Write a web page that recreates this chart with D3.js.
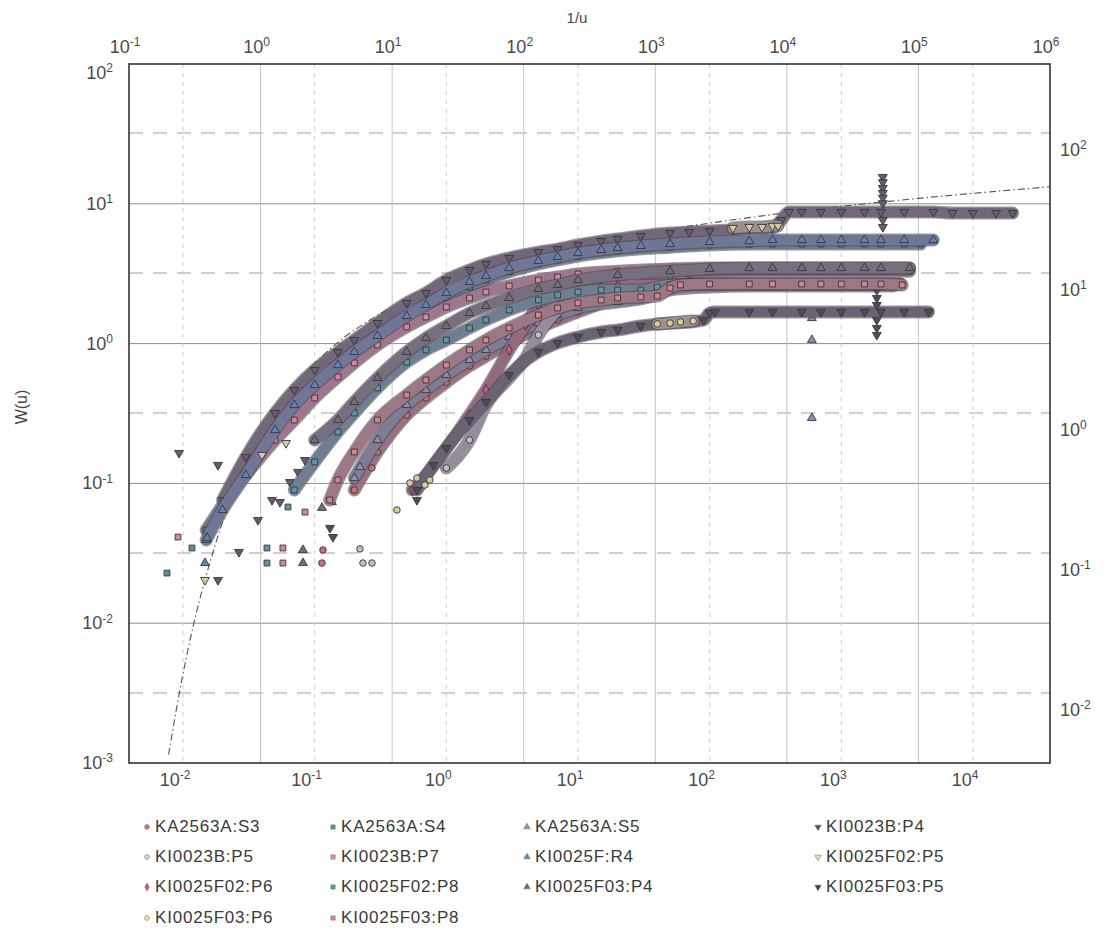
<!DOCTYPE html>
<html><head><meta charset="utf-8">
<script src="https://cdn.jsdelivr.net/npm/d3@7"></script>
<style>body{margin:0;background:#fff}</style>
</head><body>
<svg id="c" width="1104" height="938"></svg>
<script>
// ---------------- DATA ----------------
const seriesNames = ["KA2563A:S3","KA2563A:S4","KA2563A:S5","KI0023B:P4","KI0023B:P5","KI0023B:P7","KI0025F:R4",
  "KI0025F02:P5","KI0025F02:P6","KI0025F02:P8","KI0025F03:P4","KI0025F03:P5","KI0025F03:P6","KI0025F03:P8"];

// time (bottom axis), drawdown (right axis)
const KA2563A_S3 = [[0.2,0.282],[0.3,0.527],[0.5,0.968],[0.7,1.28],[1,1.66],[1.5,2.17],[2,2.55],[3,3.16],[5,4.05],[7,4.62],[10,5.27],[15,6.1],[20,6.96],[30,8.21],[50,9.52],[70,9.8],[100,10.2],[200,10.3],[300,10.3],[500,10.3],[700,10.3],[1000,10.3],[1500,10.3],[2000,10.3],[2500,10.3],[3300,10.3]];
const KA2563A_S4 = [[0.015,0.146],[0.02,0.22],[0.03,0.405],[0.05,0.72],[0.07,1.05],[0.1,1.46],[0.15,2.03],[0.2,2.51],[0.3,3.27],[0.5,4.54],[0.7,5.44],[1,6.63],[1.5,7.94],[2,8.91],[3,10.2],[5,11.6],[7,12.4],[10,13.2],[20,14.4],[50,15.3],[100,15.85],[200,16.1],[300,16.1],[500,16.1],[700,16.1],[1000,16.1],[1500,16.1],[2000,16.1],[3000,16.1],[4000,16.1]];
const KA2563A_S5 = [[0.2,0.343],[0.3,0.641],[0.5,1.14],[0.7,1.46],[1,1.87],[1.5,2.39],[2,2.82],[3,3.49],[5,4.39],[7,5.01],[10,5.62],[20,6.21],[30,6.52],[50,7.56],[100,7.94],[200,8.08],[300,8.08],[500,8.08],[700,8.08],[1000,8.08],[1500,8.08],[2000,8.08],[2500,8.08]];
const KI0023B_P4 = [[0.02,0.239],[0.03,0.485],[0.05,1.0],[0.07,1.46],[0.1,2.03],[0.15,2.73],[0.2,3.32],[0.3,4.39],[0.5,6.11],[0.7,7.2],[1,8.91],[1.5,10.5],[2,11.6],[3,12.8],[5,14.1],[7,14.8],[10,15.85],[15,16.9],[20,17.5],[30,18.4],[50,19.3],[70,19.6],[100,19.95],[150,20.3],[200,20.6],[300,20.96],[350,23.9],[400,27.3],[500,27.3],[700,27.3],[1000,27.3],[1500,27.3],[2000,27.3],[3000,27.3],[5000,27.3],[7000,26.8],[10000,26.8],[15000,26.8],[20000,26.8]];
const KI0023B_P5 = [[1,0.405],[1.5,0.641],[2,1.14],[3,1.78],[4,2.47],[5,3.61],[7,5.44],[10,7.32],[15,8.91],[20,9.52],[30,10.2],[50,10.5],[100,10.7],[200,10.7],[300,10.7],[500,10.7],[700,10.7],[1000,10.7],[1500,10.7],[2000,10.7],[3200,10.7]];
const KI0023B_P7 = [[0.03,0.361],[0.05,0.641],[0.07,0.891],[0.1,1.28],[0.15,1.81],[0.2,2.28],[0.3,3.06],[0.5,4.12],[0.7,4.85],[1,5.72],[1.5,6.63],[2,7.32],[3,8.08],[5,8.91],[7,9.36],[10,9.84],[20,10.3],[50,10.7],[100,10.85],[200,10.85],[300,10.85],[500,10.85],[700,10.85],[1000,10.85],[1500,10.85],[2000,10.85],[3300,10.85]];
const KI0025F_R4 = [[0.015,0.124],[0.02,0.203],[0.03,0.361],[0.05,0.756],[0.07,1.14],[0.1,1.585],[0.15,2.2],[0.2,2.73],[0.3,3.55],[0.5,4.93],[0.7,5.91],[1,7.2],[1.5,8.63],[2,9.52],[3,10.85],[5,12.2],[7,13.0],[10,13.9],[15,14.6],[20,15.1],[30,15.6],[50,16.1],[100,16.65],[200,16.9],[300,17.2],[500,17.2],[700,17.2],[1000,17.2],[1500,17.2],[2000,17.2],[3000,17.2],[5000,17.2]];
const KI0025F02_P5 = [[150,20.96],[200,21.3],[250,21.3],[300,21.7],[330,21.7]];
const KI0025F02_P6 = [[0.55,0.282],[0.7,0.361],[1,0.56],[1.5,0.968],[2,1.46],[3,2.82],[4,4.25],[5,5.91],[7,6.96],[10,7.56],[15,7.94],[20,8.08],[50,8.21],[100,8.35],[200,8.35],[300,8.35],[500,8.35],[700,8.35],[1000,8.35],[1500,8.35],[2000,8.35],[2800,8.35]];
const KI0025F02_P8 = [[0.07,0.282],[0.1,0.447],[0.15,0.732],[0.2,1.0],[0.3,1.51],[0.5,2.31],[0.7,2.82],[1,3.32],[1.5,4.05],[2,4.62],[3,5.44],[5,6.41],[7,6.96],[10,7.32],[15,7.56],[20,7.56],[30,7.56],[40,7.94],[50,8.21],[100,8.35],[200,8.35],[300,8.35],[500,8.35],[700,8.35],[1000,8.35],[1500,8.35],[2000,8.35],[2800,8.35]];
const KI0025F03_P4 = [[0.1,0.641],[0.15,0.891],[0.2,1.2],[0.3,1.78],[0.5,2.73],[0.7,3.43],[1,4.18],[1.5,5.18],[2,5.81],[3,6.63],[5,7.69],[7,8.21],[10,8.91],[20,9.68],[50,10.3],[100,10.7],[200,10.85],[300,10.85],[500,10.85],[700,10.85],[1000,10.85],[1500,10.85],[2000,10.85],[3300,10.85]];
const KI0025F03_P5 = [[0.6,0.282],[0.8,0.425],[1,0.562],[1.5,0.891],[2,1.2],[3,1.87],[5,2.73],[7,3.16],[10,3.49],[15,3.79],[20,3.92],[30,4.18],[50,4.39],[70,4.47],[90,4.62],[100,5.18],[110,5.27],[200,5.27],[300,5.27],[500,5.27],[700,5.27],[1000,5.27],[1500,5.27],[2000,5.27],[3000,5.27],[4600,5.27]];
const KI0025F03_P6 = [[40,4.33],[50,4.39],[60,4.47],[75,4.54]];
const KI0025F03_P8 = [[0.13,0.239],[0.15,0.332],[0.2,0.527],[0.3,0.891],[0.5,1.345],[0.7,1.72],[1,2.2],[1.5,2.82],[2,3.32],[3,4.05],[5,5.01],[7,5.62],[10,6.11],[15,6.41],[20,6.63],[30,6.74],[40,6.85],[50,7.81],[60,8.21],[100,8.35],[200,8.35],[300,8.35],[500,8.35],[700,8.35],[1000,8.35],[1500,8.35],[2000,8.35],[2900,8.21]];

// isolated early readings and outliers: [series, time, drawdown]
const scatterPoints = [
 ["KA2563A:S3",0.1156,0.105],["KA2563A:S3",0.1136,0.0848],["KA2563A:S3",0.272,0.405],
 ["KA2563A:S4",0.00756,0.0719],["KA2563A:S4",0.0117,0.1086],
 ["KA2563A:S5",0.2208,0.411],["KA2563A:S5",597,4.77],["KA2563A:S5",597,3.32],["KA2563A:S5",597,0.921],
 ["KI0023B:P4",0.00933,0.518],["KI0023B:P4",0.01844,0.425],["KI0023B:P4",0.0371,0.172],["KI0023B:P4",0.0266,0.1016],
 ["KI0023B:P4",0.01844,0.0641],["KI0023B:P4",0.0474,0.239],["KI0023B:P4",0.0545,0.231],["KI0023B:P4",0.0649,0.321],
 ["KI0023B:P4",0.0747,0.379],["KI0023B:P4",0.0844,0.461],
 ["KI0023B:P4",2066,48.5],["KI0023B:P4",2066,44.5],["KI0023B:P4",2066,40.5],["KI0023B:P4",2066,37.3],
 ["KI0023B:P4",2066,34.5],["KI0023B:P4",2066,31.5],["KI0023B:P4",2066,23.9],["KI0023B:P4",2066,21.3],
 ["KI0023B:P5",0.2208,0.107],["KI0023B:P5",0.2326,0.0848],["KI0023B:P5",0.2723,0.0848],
 ["KI0023B:P7",0.00916,0.13],["KI0023B:P7",0.0574,0.1086],["KI0023B:P7",0.0574,0.0848],["KI0023B:P7",0.0844,0.196],
 ["KI0025F:R4",0.0152,0.128],["KI0025F:R4",0.01469,0.0848],
 ["KI0025F02:P5",0.01469,0.0641],["KI0025F02:P5",0.0606,0.61],["KI0025F02:P5",0.0398,0.501],
 ["KI0025F02:P8",0.0434,0.1086],["KI0025F02:P8",0.0434,0.0848],["KI0025F02:P8",0.0627,0.213],
 ["KI0025F03:P4",0.0815,0.105],["KI0025F03:P4",0.0815,0.0848],["KI0025F03:P4",0.1136,0.21],["KI0025F03:P4",0.1353,0.231],
 ["KI0025F03:P5",0.598,0.239],["KI0025F03:P5",0.1307,0.151],["KI0025F03:P5",0.1377,0.13],
 ["KI0025F03:P5",1860,7.56],["KI0025F03:P5",1860,6.63],["KI0025F03:P5",1860,5.91],["KI0025F03:P5",1860,4.62],
 ["KI0025F03:P5",1860,4.05],["KI0025F03:P5",1860,3.61],
 ["KI0025F03:P6",0.529,0.316],["KI0025F03:P6",0.598,0.343],["KI0025F03:P6",0.688,0.306],["KI0025F03:P6",0.75,0.332],["KI0025F03:P6",0.4215,0.203]
];

// Theis type curve (top axis 1/u, left axis W(u))
const theisInvU = [0.2,0.25,0.3333,0.5,0.6667,1,1.4286,2,3.3333,5,10,20,50,100,200,1000,10000,100000,1000000];
const theisW    = [0.001148,0.003779,0.01305,0.0489,0.1,0.2194,0.3738,0.5598,0.9057,1.2227,1.8229,2.4679,3.3547,4.0379,4.7261,6.3315,8.6332,10.9357,13.2383];

const topTicks    = [-1,0,1,2,3,4,5,6];
const leftTicks   = [2,1,0,-1,-2,-3];
const bottomTicks = [-2,-1,0,1,2,3,4];
const rightTicks  = [2,1,0,-1,-2];

// ---------------- STYLE ----------------
const seriesData = [KA2563A_S3,KA2563A_S4,KA2563A_S5,KI0023B_P4,KI0023B_P5,KI0023B_P7,KI0025F_R4,
  KI0025F02_P5,KI0025F02_P6,KI0025F02_P8,KI0025F03_P4,KI0025F03_P5,KI0025F03_P6,KI0025F03_P8];
const seriesColors = ["#d9706a","#3f9a9a","#8a94b8","#58525c","#d4d4d4","#ee8a9e","#4f86c0",
  "#ece6a0","#d05a6a","#4aa0a8","#6a6a6a","#3e3a40","#efe89a","#e88a80"];
const seriesShapes = ["circle","square","triangle","down","circle","square","triangle",
  "down","diamond","square","triangle","down","circle","square"];

const svg = d3.select("#c");
const L=129, R=1050, T=64, B=763;
const xTop = d3.scaleLog().domain([0.1,1e6]).range([L,R]);
const xBot = d3.scaleLog().domain([0.01,1e4]).range([183,973]);
const yLeft = d3.scaleLog().domain([100,0.001]).range([T,B]);
const yRight = d3.scaleLog().domain([100,0.01]).range([133,693]);

svg.append("defs").append("clipPath").attr("id","clip")
  .append("rect").attr("x",L).attr("y",T).attr("width",R-L).attr("height",B-T);

const grid = svg.append("g");
[1,0,-1,-2].forEach(k=>{
  grid.append("line").attr("x1",L).attr("x2",R).attr("y1",yLeft(10**k)).attr("y2",yLeft(10**k))
    .attr("stroke","#8f8f8f").attr("stroke-width",1);
});
rightTicks.forEach(k=>{
  grid.append("line").attr("x1",L).attr("x2",R).attr("y1",yRight(10**k)).attr("y2",yRight(10**k))
    .attr("stroke","#a0a0a0").attr("stroke-width",1).attr("stroke-dasharray","14,10");
});
[0,1,2,3,4,5].forEach(k=>{
  grid.append("line").attr("y1",T).attr("y2",B).attr("x1",xTop(10**k)).attr("x2",xTop(10**k))
    .attr("stroke","#bdbdbd").attr("stroke-width",0.9);
});
[-2,-1,0,1,2,3,4].forEach(k=>{
  grid.append("line").attr("y1",T).attr("y2",B).attr("x1",xBot(10**k)).attr("x2",xBot(10**k))
    .attr("stroke","#c6c6c6").attr("stroke-width",0.9).attr("stroke-dasharray","4,5");
});

const plot = svg.append("g").attr("clip-path","url(#clip)");

const theis = theisInvU.map((v,i)=>[v,theisW[i]]);
plot.append("path").datum(theis)
  .attr("d", d3.line().x(d=>xTop(d[0])).y(d=>yLeft(d[1])).curve(d3.curveCatmullRom))
  .attr("fill","none").attr("stroke","#555").attr("stroke-width",1.1).attr("stroke-dasharray","7,3,1.5,3");

function symPath(shape, size){
  const t = shape==="circle"?d3.symbolCircle:shape==="square"?d3.symbolSquare:
            shape==="diamond"?d3.symbolDiamond:d3.symbolTriangle;
  return d3.symbol().type(t).size(size)();
}
const band = d3.line().x(d=>xBot(d[0])).y(d=>yRight(d[1])).curve(d3.curveMonotoneX);

seriesNames.forEach((name,i)=>{
  const g = plot.append("g");
  const col = seriesColors[i];
  const bandCol = d3.interpolateRgb(col,"#7d7186")(0.72);
  g.append("path").datum(seriesData[i]).attr("d",band)
    .attr("fill","none").attr("stroke","#4a4250").attr("stroke-width",13)
    .attr("stroke-linejoin","round").attr("stroke-linecap","round").attr("opacity",0.55);
  g.append("path").datum(seriesData[i]).attr("d",band)
    .attr("fill","none").attr("stroke",bandCol).attr("stroke-width",10.5)
    .attr("stroke-linejoin","round").attr("stroke-linecap","round");
  const pts = seriesData[i].concat(scatterPoints.filter(p=>p[0]===name).map(p=>[p[1],p[2]]));
  g.selectAll("path.m").data(pts).join("path").attr("class","m")
    .attr("d",symPath(seriesShapes[i],34))
    .attr("transform",d=>`translate(${xBot(d[0])},${yRight(d[1])})`+(seriesShapes[i]==="down"?" rotate(180)":""))
    .attr("fill",d3.interpolateRgb(col,"#8a7f90")(0.25)).attr("stroke","#3a3440").attr("stroke-width",0.9);
});

svg.append("rect").attr("x",L).attr("y",T).attr("width",R-L).attr("height",B-T)
  .attr("fill","none").attr("stroke","#333").attr("stroke-width",1.6);

const FONT = "'Liberation Sans', Arial, Helvetica, sans-serif";
function pow(x,y,exp,anchor){
  const t = svg.append("text").attr("x",x).attr("y",y).attr("text-anchor",anchor)
    .attr("font-family",FONT).attr("font-size",18).attr("fill","#4a4a4a");
  t.append("tspan").text("10");
  t.append("tspan").attr("dy","-0.55em").attr("font-size",12).text(exp);
}
topTicks.forEach(k=>pow(xTop(10**k)-4,53,k,"middle"));
leftTicks.forEach(k=>pow(113,Math.min(Math.max(yLeft(10**k),73),770)+6,k,"end"));
bottomTicks.forEach(k=>pow(xBot(10**k)-8,786,k,"middle"));
rightTicks.forEach(k=>pow(1060,yRight(10**k)+23,k,"start"));

svg.append("text").attr("x",577).attr("y",23).attr("text-anchor","middle")
  .attr("font-family",FONT).attr("font-size",15).attr("fill","#444").text("1/u");
svg.append("text").attr("transform","translate(27,407) rotate(-90)").attr("text-anchor","middle")
  .attr("font-family",FONT).attr("font-size",16).attr("fill","#444").text("W(u)");

const legX = [155,341,535,826], legY = [826,856,886,917];
seriesNames.forEach((name,i)=>{
  const cx = legX[i%4], cy = legY[Math.floor(i/4)];
  svg.append("path").attr("d",symPath(seriesShapes[i],18))
    .attr("transform",`translate(${cx-8},${cy+1})`+(seriesShapes[i]==="down"?" rotate(180)":""))
    .attr("fill",seriesColors[i]).attr("stroke","#777").attr("stroke-width",0.6);
  svg.append("text").attr("x",cx).attr("y",cy+6).attr("font-family",FONT).attr("font-size",17)
    .attr("letter-spacing","0.8px").attr("fill","#3a3a3a").text(name);
});
</script>
</body></html>
